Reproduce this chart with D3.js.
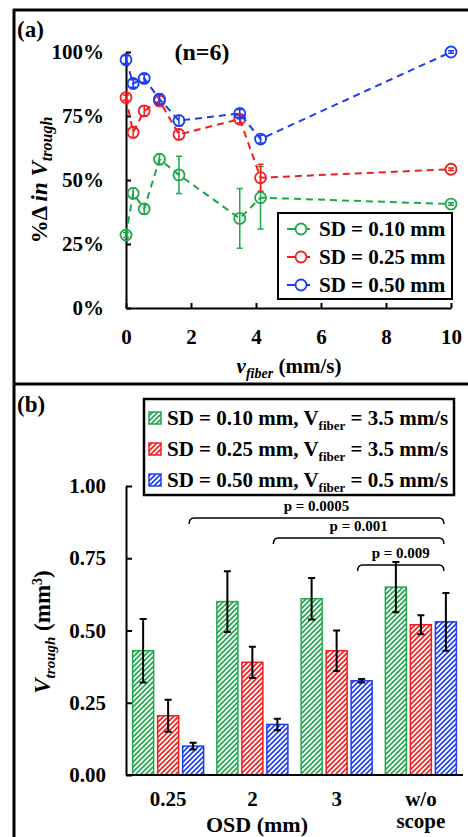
<!DOCTYPE html>
<meta charset="utf-8" />
<script src="https://d3js.org/d3.v7.min.js"></script>
<style>
  body { margin: 0; background: #fff; }
  text { font-family: "Liberation Serif", "Times New Roman", serif; font-weight: bold; }
</style>
<div id="chart"></div>
<script>
  // ---- data, panel (a) ----
  const vFiber = [0, 0.22, 0.56, 1.03, 1.63, 3.5, 4.14, 10];
  const sd010 = [28.5, 44.8, 38.7, 58.1, 52, 35, 43.1, 40.6];
  const sd010Err = [1, 2, 2, 2, 7.3, 11.7, 12.2, 0.5];
  const sd025 = [82.2, 68.6, 77, 80.9, 67.8, 73.8, 50.9, 54.2];
  const sd025Err = [1, 2, 2, 2, 2, 1.5, 5.3, 0.5];
  const sd050 = [97, 87.7, 89.7, 81.6, 73.2, 76, 66, 100];
  const sd050Err = [1.5, 1.5, 1.5, 2, 2, 1.5, 1.5, 0.5];
  const lineNames = ["SD = 0.10 mm", "SD = 0.25 mm", "SD = 0.50 mm"];
  const pctTicks = [0, 25, 50, 75, 100];
  const vTicks = [0, 2, 4, 6, 8, 10];

  // ---- data, panel (b) ----
  const osd = ["0.25", "2", "3", "w/o scope"];
  const barSeries = ["g", "r", "b"];
  const barNames = [
    ["SD = 0.10 mm, V", "fiber", " = 3.5 mm/s"],
    ["SD = 0.25 mm, V", "fiber", " = 3.5 mm/s"],
    ["SD = 0.50 mm, V", "fiber", " = 0.5 mm/s"],
  ];
  const bar010 = [0.43, 0.6, 0.61, 0.65];
  const bar010Err = [0.11, 0.105, 0.072, 0.087];
  const bar025 = [0.205, 0.39, 0.43, 0.52];
  const bar025Err = [0.055, 0.054, 0.07, 0.033];
  const bar050 = [0.1, 0.175, 0.326, 0.53];
  const bar050Err = [0.012, 0.02, 0.006, 0.1];
  const volTicks = [0, 0.25, 0.5, 0.75, 1];
  // significance brackets: from osd index to osd index, height, label
  const brackets = [
    { from: 0, to: 3, h: 0.889, label: "p = 0.0005" },
    { from: 1, to: 3, h: 0.82, label: "p = 0.001" },
    { from: 2, to: 3, h: 0.727, label: "p = 0.009" },
  ];

  const colors = ["#1ea84a", "#f51c1c", "#1c3cf5"];

  const W = 468, H = 837;
  const svg = d3.select("#chart").append("svg").attr("width", W).attr("height", H);

  // hatch patterns
  const defs = svg.append("defs");
  barSeries.forEach((s, i) => {
    const p = defs.append("pattern")
      .attr("id", "hatch-" + s)
      .attr("patternUnits", "userSpaceOnUse")
      .attr("width", 5).attr("height", 5);
    p.append("rect").attr("width", 5).attr("height", 5).attr("fill", "#fff");
    p.append("path")
      .attr("d", "M-1,1 l2,-2 M0,5 l5,-5 M4,6 l2,-2")
      .attr("stroke", colors[i]).attr("stroke-width", 1.6);
  });

  // frame
  svg.append("line").attr("x1", 13).attr("x2", W).attr("y1", 10).attr("y2", 10)
    .attr("stroke", "#000").attr("stroke-width", 3);
  svg.append("line").attr("x1", 14).attr("x2", 14).attr("y1", 9).attr("y2", H)
    .attr("stroke", "#000").attr("stroke-width", 3);
  svg.append("line").attr("x1", 13).attr("x2", W).attr("y1", 384).attr("y2", 384)
    .attr("stroke", "#000").attr("stroke-width", 3);

  // ================= panel (a) =================
  const x = d3.scaleLinear().domain([0, 10]).range([126, 451]);
  const y = d3.scaleLinear().domain([0, 100]).range([308, 52]);

  const gy = svg.append("g").attr("transform", "translate(126,0)")
    .call(d3.axisLeft(y).tickValues(pctTicks).tickFormat(d => d + "%")
      .tickSize(-5).tickSizeOuter(0).tickPadding(22));
  const gx = svg.append("g").attr("transform", "translate(0,308)")
    .call(d3.axisBottom(x).tickValues(vTicks).tickSize(-5).tickSizeOuter(0).tickPadding(21));
  [gx, gy].forEach(g => {
    g.select(".domain").attr("stroke-width", 2);
    g.selectAll(".tick line").attr("stroke-width", 2);
    g.selectAll("text").attr("font-size", 21).attr("font-family", "Liberation Serif").attr("fill", "#000");
  });

  const seriesA = [
    { v: sd010, e: sd010Err, c: colors[0] },
    { v: sd025, e: sd025Err, c: colors[1] },
    { v: sd050, e: sd050Err, c: colors[2] },
  ];
  const line = d3.line().x((d, i) => x(vFiber[i])).y(d => y(d));
  seriesA.forEach(s => {
    const g = svg.append("g");
    g.append("path").datum(s.v).attr("d", line).attr("fill", "none")
      .attr("stroke", s.c).attr("stroke-width", 2).attr("stroke-dasharray", "7,5");
    s.v.forEach((v, i) => {
      const cx = x(vFiber[i]);
      const y0 = y(v - s.e[i]), y1 = y(v + s.e[i]);
      g.append("path")
        .attr("d", `M${cx},${y0}V${y1}M${cx - 3},${y0}h6M${cx - 3},${y1}h6`)
        .attr("stroke", s.c).attr("stroke-width", 1.5).attr("fill", "none");
      g.append("circle").attr("cx", cx).attr("cy", y(v)).attr("r", 5.5)
        .attr("fill", "none").attr("stroke", s.c).attr("stroke-width", 1.8);
    });
  });

  svg.append("text").attr("x", 17).attr("y", 37).attr("font-size", 23).text("(a)");
  svg.append("text").attr("x", 202).attr("y", 60).attr("font-size", 24)
    .attr("text-anchor", "middle").text("(n=6)");

  // y title (a)
  const ta = svg.append("text").attr("transform", "translate(47,180) rotate(-90)")
    .attr("text-anchor", "middle").attr("font-size", 23);
  ta.append("tspan").text("%\u0394 ");
  ta.append("tspan").attr("font-style", "italic").text("in V");
  ta.append("tspan").attr("font-style", "italic").attr("font-size", 16).attr("dy", 5).text("trough");

  // x title (a)
  const tx = svg.append("text").attr("x", 289).attr("y", 373)
    .attr("text-anchor", "middle").attr("font-size", 21);
  tx.append("tspan").attr("font-style", "italic").text("v");
  tx.append("tspan").attr("font-style", "italic").attr("font-size", 14).attr("dy", 5).text("fiber");
  tx.append("tspan").attr("dy", -5).text(" (mm/s)");

  // legend (a)
  const la = svg.append("g");
  la.append("rect").attr("x", 278).attr("y", 213).attr("width", 174).attr("height", 86)
    .attr("fill", "#fff").attr("stroke", "#000").attr("stroke-width", 2);
  lineNames.forEach((n, i) => {
    const ly = 229 + i * 28;
    la.append("line").attr("x1", 287).attr("x2", 310).attr("y1", ly).attr("y2", ly)
      .attr("stroke", colors[i]).attr("stroke-width", 2);
    la.append("circle").attr("cx", 301).attr("cy", ly).attr("r", 5.5)
      .attr("fill", "#fff").attr("stroke", colors[i]).attr("stroke-width", 1.8);
    la.append("text").attr("x", 319).attr("y", ly + 7).attr("font-size", 21).text(n);
  });

  // ================= panel (b) =================
  const yb = d3.scaleLinear().domain([0, 1]).range([775, 486]);
  const x0 = d3.scaleBand().domain(osd).range([126, 463]);
  const x1 = d3.scaleBand().domain(barSeries).range([0, 71]).paddingInner(0.16);
  const off = (x0.bandwidth() - 71) / 2;

  const gyb = svg.append("g").attr("transform", "translate(126,0)")
    .call(d3.axisLeft(yb).tickValues(volTicks).tickFormat(d3.format(".2f"))
      .tickSize(-6).tickSizeOuter(0).tickPadding(20));
  gyb.select(".domain").attr("stroke-width", 2);
  gyb.selectAll(".tick line").attr("stroke-width", 2);
  gyb.selectAll("text").attr("font-size", 21).attr("font-family", "Liberation Serif").attr("fill", "#000");

  const barData = [
    { v: bar010, e: bar010Err },
    { v: bar025, e: bar025Err },
    { v: bar050, e: bar050Err },
  ];
  const gb = svg.append("g");
  barData.forEach((s, si) => {
    s.v.forEach((v, i) => {
      const bx = x0(osd[i]) + off + x1(barSeries[si]);
      gb.append("rect").attr("x", bx).attr("y", yb(v))
        .attr("width", x1.bandwidth()).attr("height", yb(0) - yb(v))
        .attr("fill", `url(#hatch-${barSeries[si]})`)
        .attr("stroke", colors[si]).attr("stroke-width", 1.5);
    });
  });
  barData.forEach((s, si) => {
    s.v.forEach((v, i) => {
      const cx = x0(osd[i]) + off + x1(barSeries[si]) + x1.bandwidth() / 2;
      const y0 = yb(v - s.e[i]), y1 = yb(v + s.e[i]);
      gb.append("path")
        .attr("d", `M${cx},${y0}V${y1}M${cx - 3.5},${y0}h7M${cx - 3.5},${y1}h7`)
        .attr("stroke", "#000").attr("stroke-width", 2).attr("fill", "none");
    });
  });

  // x axis line (b)
  svg.append("line").attr("x1", 126).attr("x2", 463).attr("y1", yb(0)).attr("y2", yb(0))
    .attr("stroke", "#000").attr("stroke-width", 2);

  osd.forEach(c => {
    const cx = x0(c) + x0.bandwidth() / 2;
    c.split(" ").forEach((w, k) => {
      svg.append("text").attr("x", cx).attr("y", 806 + k * 22)
        .attr("text-anchor", "middle").attr("font-size", 21).text(w);
    });
  });

  // brackets
  const blueX = i => x0(osd[i]) + off + x1("b") + x1.bandwidth() / 2;
  brackets.forEach(b => {
    const xa = blueX(b.from) - 4, xb = blueX(b.to) - 2, by = yb(b.h);
    svg.append("path")
      .attr("d", `M${xa},${by + 6}Q${xa},${by} ${xa + 5},${by}H${xb - 5}Q${xb},${by} ${xb},${by + 6}`)
      .attr("fill", "none").attr("stroke", "#000").attr("stroke-width", 1.5);
    svg.append("text").attr("x", (xa + xb) / 2).attr("y", by - 7)
      .attr("text-anchor", "middle").attr("font-size", 15).text(b.label);
  });

  svg.append("text").attr("x", 17).attr("y", 412).attr("font-size", 23).text("(b)");

  // y title (b)
  const tb = svg.append("text").attr("transform", "translate(50,632) rotate(-90)")
    .attr("text-anchor", "middle").attr("font-size", 23);
  tb.append("tspan").attr("font-style", "italic").text("V");
  tb.append("tspan").attr("font-style", "italic").attr("font-size", 15).attr("dy", 5).text("trough");
  tb.append("tspan").attr("dy", -5).text(" (mm");
  tb.append("tspan").attr("font-size", 14).attr("dy", -8).text("3");
  tb.append("tspan").attr("dy", 8).text(")");

  svg.append("text").attr("x", 257).attr("y", 832).attr("text-anchor", "middle")
    .attr("font-size", 22).text("OSD (mm)");

  // legend (b)
  const lb = svg.append("g");
  lb.append("rect").attr("x", 144).attr("y", 399).attr("width", 310).attr("height", 96)
    .attr("fill", "#fff").attr("stroke", "#000").attr("stroke-width", 2.5);
  barNames.forEach((n, i) => {
    const ly = 418 + i * 31;
    lb.append("rect").attr("x", 149).attr("y", ly - 6).attr("width", 12).attr("height", 12)
      .attr("fill", `url(#hatch-${barSeries[i]})`).attr("stroke", colors[i]).attr("stroke-width", 1.5);
    const t = lb.append("text").attr("x", 167).attr("y", ly + 7).attr("font-size", 21);
    t.append("tspan").text(n[0]);
    t.append("tspan").attr("font-size", 13).attr("dy", 5).text(n[1]);
    t.append("tspan").attr("dy", -5).text(n[2]);
  });
</script>
